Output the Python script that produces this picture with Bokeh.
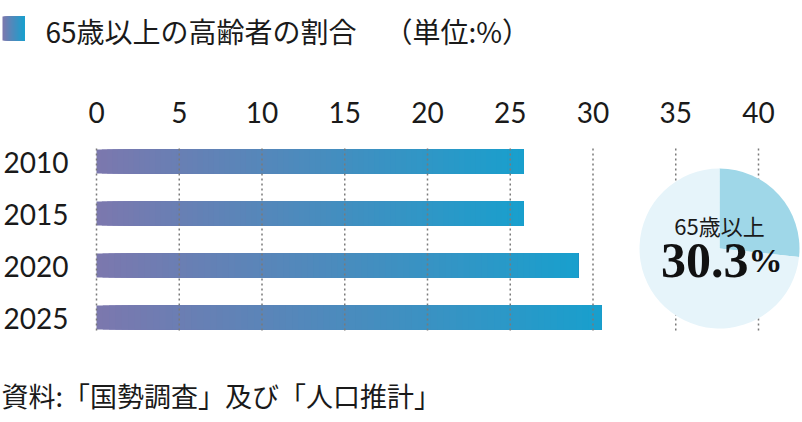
import numpy as np
from bokeh.plotting import figure
from bokeh.models import Range1d, ColumnDataSource
from bokeh.core.properties import value
from bokeh.embed import file_html
from bokeh.resources import INLINE

# ---- data ----
years = ["2010", "2015", "2020", "2025"]
shares = [25.8, 25.8, 29.1, 30.5]
x_ticks = [0, 5, 10, 15, 20, 25, 30, 35, 40]
pie_label = "65歳以上"
pie_value = 30.3
pie_slice = [26.7, 73.3]
title_text = "65歳以上の高齢者の割合"
unit_text = "（単位:%）"
source_text = "資料:「国勢調査」及び「人口推計」"

# ---- style / layout (canvas pixels) ----
W, H = 802, 422
PX = 16.55          # pixels per percent
ZERO = 96           # canvas x of 0 %
ROW0, ROWSTEP = 161, 52   # canvas y of first bar centre, bar pitch
C_START = (0x7b, 0x78, 0xae)
C_END = (0x19, 0x9f, 0xcd)
TXT = "#1a1a1a"
JP = value("Noto Sans CJK JP")
NUMF = value("Lato")


def mix(t):
    return "#%02x%02x%02x" % tuple(int(round(a + (b - a) * t)) for a, b in zip(C_START, C_END))


def dx(cx):  # canvas x -> data x
    return (cx - ZERO) / PX


def dy(cy):  # canvas y -> data y (row index)
    return (cy - ROW0) / ROWSTEP


p = figure(width=W, height=H,
           x_range=Range1d(dx(0), dx(W)), y_range=Range1d(dy(H), dy(0)),
           output_backend="svg", toolbar_location=None,
           x_axis_location=None, y_axis_location=None,
           min_border=0, outline_line_color=None)
p.grid.visible = False

# gradient bars
N = 80
rows = dict(y=[], left=[], right=[], color=[])
for i, s in enumerate(shares):
    for k in range(N):
        rows["y"].append(i)
        rows["left"].append(s * k / N)
        rows["right"].append(s)
        rows["color"].append(mix(k / (N - 1)))
p.hbar(y="y", left="left", right="right", height=24 / ROWSTEP, fill_color="color",
       line_color=None, source=ColumnDataSource(rows))

# dotted vertical grid (above bars)
p.segment(x0=x_ticks, x1=x_ticks, y0=dy(148), y1=dy(330),
          line_color="#7a7a7a", line_width=1.5, line_dash="2 3")

# tick labels (top) and category labels (left)
p.text(x=x_ticks, y=[dy(112)] * len(x_ticks), text=[str(t) for t in x_ticks],
       text_font=NUMF, text_font_size="28px", text_align="center",
       text_baseline="middle", text_color=TXT)
p.text(x=[dx(68)] * len(years), y=list(range(len(years))), text=years,
       text_font=NUMF, text_font_size="28px", text_align="right",
       text_baseline="middle", y_offset=1, text_color=TXT)

# pie
pie_x, pie_y = dx(719), dy(248)
angles = np.cumsum([0] + pie_slice) / 100 * 2 * np.pi
p.wedge(x=[pie_x] * 2, y=[pie_y] * 2, radius=80, radius_units="screen",
        start_angle=np.pi / 2 - angles[1:], end_angle=np.pi / 2 - angles[:-1],
        fill_color=["#9fd7e8", "#e6f4fa"], line_color=None)

p.text(x=[pie_x], y=[pie_y], text=[pie_label], text_font=JP, text_font_size="22px",
       text_align="center", text_baseline="middle", y_offset=-24, text_color=TXT)
p.text(x=[pie_x], y=[pie_y], text=[f"{pie_value}"], text_font=value("Liberation Serif"),
       text_font_style="bold", text_font_size="50px", text_align="right",
       text_baseline="alphabetic", x_offset=29, y_offset=12, text_color="#111111")
p.text(x=[pie_x], y=[pie_y], text=["%"], text_font=value("Liberation Serif"),
       text_font_style="bold", text_font_size="34px", text_align="left",
       text_baseline="alphabetic", x_offset=29, y_offset=12, text_color="#111111")

# header: gradient key + title
nk = 22
kx = np.linspace(2, 24, nk + 1)
p.quad(left=[dx(v) for v in kx[:-1]], right=[dx(24)] * nk,
       top=[dy(16)] * nk, bottom=[dy(40)] * nk,
       fill_color=[mix(i / (nk - 1)) for i in range(nk)], line_color=None)
p.text(x=[dx(45)], y=[dy(30)], text=[title_text], text_font=JP, text_font_size="28px",
       text_baseline="middle", text_color=TXT)
p.text(x=[dx(384)], y=[dy(30)], text=[unit_text], text_font=JP, text_font_size="28px",
       text_baseline="middle", text_color=TXT)

# footer: source
p.text(x=[dx(1)], y=[dy(395)], text=[source_text], text_font=JP, text_font_size="27px",
       text_baseline="middle", text_color=TXT)

open("out.html", "w").write(file_html(p, INLINE))
